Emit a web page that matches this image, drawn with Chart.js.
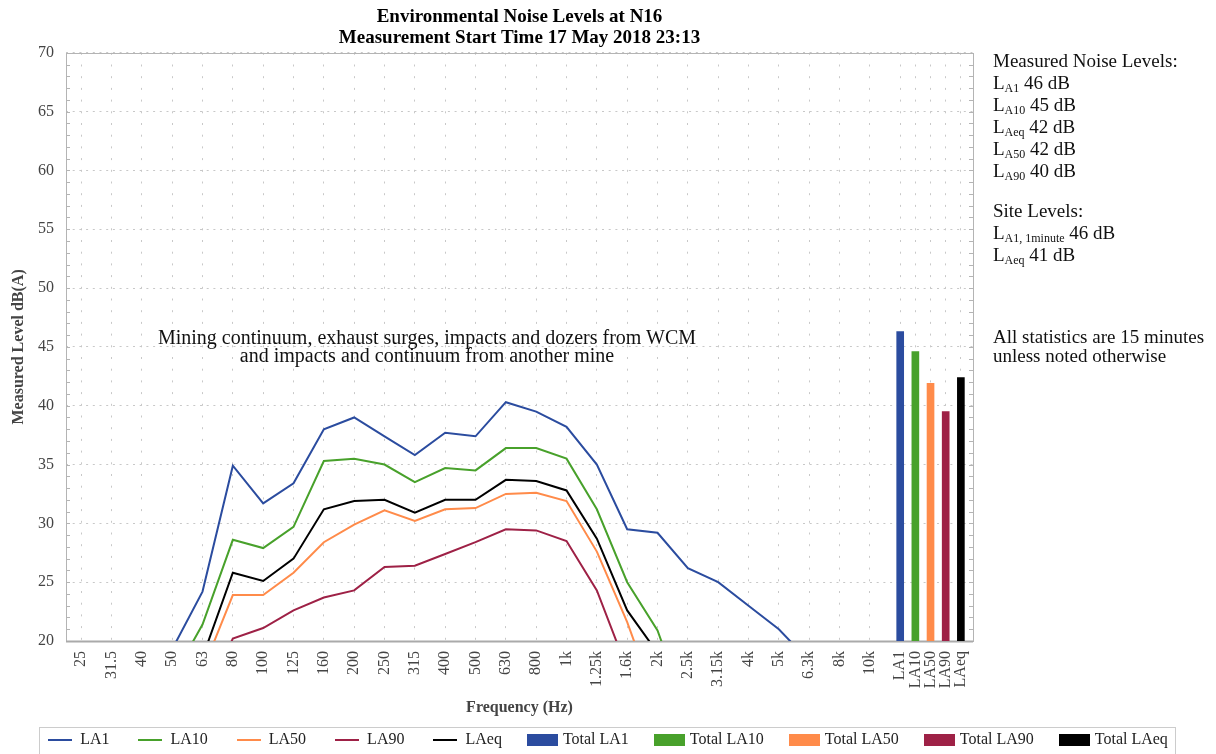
<!DOCTYPE html>
<html>
<head>
<meta charset="utf-8">
<title>Environmental Noise Levels at N16</title>
<script src="https://cdn.jsdelivr.net/npm/chart.js@4.4.1/dist/chart.umd.min.js"></script>
<style>
  body { margin: 0; background: #fff; }
  #wrap { position: relative; width: 1216px; height: 754px; font-family: 'Liberation Serif', serif; color: #111; }
  #chart { position: absolute; left: 0; top: 0; }
  .note { position: absolute; font-size: 19px; line-height: 22px; white-space: nowrap; }
  .note sub { font-size: 12px; vertical-align: -3px; line-height: 0; }
</style>
</head>
<body>
<div id="wrap">
  <canvas id="chart" width="1216" height="754"></canvas>

  <div class="note" style="left:993px; top:50px;">
    Measured Noise Levels:<br>
    L<sub>A1</sub> 46 dB<br>
    L<sub>A10</sub> 45 dB<br>
    L<sub>Aeq</sub> 42 dB<br>
    L<sub>A50</sub> 42 dB<br>
    L<sub>A90</sub> 40 dB
  </div>
  <div class="note" style="left:993px; top:200px;">
    Site Levels:<br>
    L<sub>A1, 1minute</sub> 46 dB<br>
    L<sub>Aeq</sub> 41 dB
  </div>
  <div class="note" style="left:993px; top:327px; line-height:19px;">
    All statistics are 15 minutes<br>
    unless noted otherwise
  </div>
  <div class="note" style="left:127px; top:328px; width:600px; text-align:center; font-size:20px; line-height:18px;">
    Mining continuum, exhaust surges, impacts and dozers from WCM<br>
    and impacts and continuum from another mine
  </div>
</div>

<script>
const freqLabels = ['25', '31.5', '40', '50', '63', '80', '100', '125', '160', '200', '250', '315', '400',
    '500', '630', '800', '1k', '1.25k', '1.6k', '2k', '2.5k', '3.15k', '4k', '5k', '6.3k', '8k', '10k'];
const totalLabels = ['LA1', 'LA10', 'LA50', 'LA90', 'LAeq'];

// Third-octave levels, dB(A)
const la1 = [null, null, null, 19.3, 24.2, 34.9, 31.7, 33.4, 38.0, 39.0, 37.4, 35.8, 37.7, 37.4,
    40.3, 39.5, 38.2, 35.0, 29.5, 29.2, 26.2, 25.0, 23.0, 21.0, 18.3, null, null];
const la10 = [null, null, null, 16.8, 21.4, 28.6, 27.9, 29.7, 35.3, 35.5, 35.0, 33.5, 34.7, 34.5,
    36.4, 36.4, 35.5, 31.2, 25.0, 20.9, 13.7, null, null, null, null, null, null];
const la50 = [null, null, null, null, 17.5, 23.9, 23.9, 25.8, 28.4, 29.9, 31.1, 30.2, 31.2, 31.3,
    32.5, 32.6, 31.9, 27.6, 21.6, 14.5, null, null, null, null, null, null, null];
const la90 = [null, null, null, null, 15.0, 20.2, 21.1, 22.6, 23.7, 24.3, 26.3, 26.4, 27.4, 28.4,
    29.5, 29.4, 28.5, 24.3, 17.6, null, null, null, null, null, null, null, null];
const laeq = [null, null, null, null, 18.6, 25.8, 25.1, 27.0, 31.2, 31.9, 32.0, 30.9, 32.0, 32.0,
    33.7, 33.6, 32.8, 28.7, 22.6, 19.0, null, null, null, null, null, null, null];

// Overall levels
const totalLevels = [46.3, 44.6, 41.9, 39.5, 42.4];

const colors = ['#2b4c9f', '#48a12b', '#ff8b4a', '#9e2146', '#000000'];
const FONT = "'Liberation Serif', serif";

// totals sit half a band apart after the last band
const totalAt = i => freqLabels.length + i * 0.5;
const tickPositions = freqLabels.map((_, i) => i).concat(totalLabels.map((_, i) => totalAt(i)));
const tickLabels = freqLabels.concat(totalLabels);

function lineIcon(color) {
    const c = document.createElement('canvas');
    c.width = 24; c.height = 2;
    const g = c.getContext('2d');
    g.fillStyle = color;
    g.fillRect(0, 0, 24, 2);
    return c;
}

function boxIcon(color) {
    const c = document.createElement('canvas');
    c.width = 31; c.height = 12;
    const g = c.getContext('2d');
    g.fillStyle = color;
    g.fillRect(0, 0, 31, 12);
    return c;
}

const lineSets = [la1, la10, la50, la90, laeq].map((values, i) => ({
    type: 'line',
    label: totalLabels[i],
    data: values.map((v, k) => ({ x: k, y: v })),
    borderColor: colors[i],
    backgroundColor: colors[i],
    borderWidth: 2,
    pointRadius: 0,
    tension: 0,
    spanGaps: false,
    icon: lineIcon(colors[i])
}));

const barSets = totalLevels.map((v, i) => ({
    type: 'bar',
    label: 'Total ' + totalLabels[i],
    data: [{ x: totalAt(i), y: v }],
    backgroundColor: colors[i],
    borderWidth: 0,
    barThickness: 7,
    grouped: false,
    icon: boxIcon(colors[i])
}));

const framePlugin = {
    id: 'frame',
    beforeDatasetsDraw(chart) {
        const { ctx, chartArea: a, scales: { y } } = chart;
        ctx.save();
        ctx.strokeStyle = '#b4b4b4';
        ctx.lineWidth = 1;
        ctx.beginPath();
        for (let v = y.min + 1; v < y.max; v++) {
            const py = Math.round(y.getPixelForValue(v)) + 0.5;
            ctx.moveTo(a.left, py); ctx.lineTo(a.left + 4, py);
            ctx.moveTo(a.right, py); ctx.lineTo(a.right - 4, py);
        }
        ctx.stroke();
        ctx.strokeRect(Math.round(a.left) + 0.5, Math.round(a.top) + 0.5, Math.round(a.width), Math.round(a.height));
        ctx.lineWidth = 2;
        ctx.strokeStyle = '#aaaaaa';
        ctx.beginPath();
        ctx.moveTo(a.left, Math.round(a.bottom) + 0.5);
        ctx.lineTo(a.right, Math.round(a.bottom) + 0.5);
        ctx.stroke();
        ctx.restore();
    },
    afterDraw(chart) {
        // box round the legend
        const boxes = chart.legend.legendHitBoxes;
        if (!boxes || !boxes.length) return;
        const { ctx } = chart;
        const left = Math.min(...boxes.map(b => b.left)) - 9;
        const right = Math.max(...boxes.map(b => b.left + b.width)) + 7;
        const top = Math.round(boxes[0].top + boxes[0].height / 2 - 13);
        ctx.save();
        ctx.strokeStyle = '#cccccc';
        ctx.lineWidth = 1;
        ctx.strokeRect(Math.round(left) + 0.5, top + 0.5, Math.round(right - left), chart.height - top + 5);
        ctx.restore();
    }
};

new Chart(document.getElementById('chart'), {
    type: 'bar',
    data: { datasets: lineSets.concat(barSets) },
    plugins: [framePlugin],
    options: {
        responsive: false,
        animation: false,
        layout: { padding: { bottom: -4 } },
        plugins: {
            title: {
                display: true,
                fullSize: false,
                text: ['Environmental Noise Levels at N16', 'Measurement Start Time 17 May 2018 23:13'],
                color: '#000',
                font: { family: FONT, size: 19, weight: 'bold', lineHeight: 1.1 },
                padding: { top: 7, bottom: 4 }
            },
            legend: {
                position: 'bottom',
                labels: {
                    usePointStyle: true,
                    pointStyleWidth: 24,
                    padding: 29,
                    color: '#222',
                    font: { family: FONT, size: 16 },
                    generateLabels(chart) {
                        const items = Chart.defaults.plugins.legend.labels.generateLabels(chart);
                        items.forEach(item => {
                            item.pointStyle = chart.data.datasets[item.datasetIndex].icon;
                        });
                        return items;
                    }
                }
            },
            tooltip: { enabled: false }
        },
        scales: {
            x: {
                type: 'linear',
                offset: false,
                min: -0.5,
                max: 29.4,
                afterBuildTicks: axis => {
                    axis.ticks = tickPositions.map(v => ({ value: v }));
                },
                afterFit: axis => {
                    axis.height = 758 - 641 - axis.chart.legend.height;
                },
                ticks: {
                    autoSkip: false,
                    minRotation: 90,
                    maxRotation: 90,
                    padding: 10,
                    color: '#444',
                    font: { family: FONT, size: 16 },
                    callback: (v, i) => tickLabels[i]
                },
                grid: { color: '#c8c8c8', drawTicks: false, offset: false },
                border: { display: false, dash: [2, 9.7] },
                title: {
                    display: true,
                    text: 'Frequency (Hz)',
                    color: '#444',
                    font: { family: FONT, size: 16, weight: 'bold' },
                    padding: { top: 4, bottom: -14 }
                }
            },
            y: {
                min: 20,
                max: 70,
                afterFit: axis => { axis.width = 66; },
                ticks: {
                    stepSize: 5,
                    padding: 12,
                    color: '#444',
                    font: { family: FONT, size: 16 }
                },
                grid: { color: '#c8c8c8', drawTicks: false },
                border: { display: false, dash: [2, 4.7] },
                title: {
                    display: true,
                    text: 'Measured Level dB(A)',
                    color: '#444',
                    font: { family: FONT, size: 16, weight: 'bold' },
                    padding: { top: 9, bottom: 0 }
                }
            },
            y2: {
                position: 'right',
                afterFit: axis => { axis.width = 243; },
                ticks: { display: false },
                grid: { display: false },
                border: { display: false }
            }
        }
    }
});
</script>
</body>
</html>
